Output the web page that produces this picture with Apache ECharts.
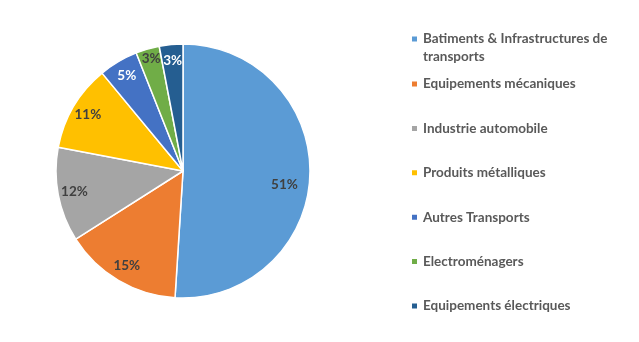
<!DOCTYPE html>
<html><head><meta charset="utf-8">
<script src="https://cdn.jsdelivr.net/npm/echarts@6/dist/echarts.min.js"></script>
<style>html,body{margin:0;padding:0;background:#fff}#c{width:639px;height:342px}</style>
</head><body><div id="c"></div>
<script>
var categories = ["Batiments & Infrastructures de transports","Equipements mécaniques","Industrie automobile","Produits métalliques","Autres Transports","Electroménagers","Equipements électriques"];
var values = [51, 15, 12, 11, 5, 3, 3];
var colors = ["#5B9BD5","#ED7D31","#A5A5A5","#FFC000","#4472C4","#70AD47","#255E91"];
var labelColors = ["#404040","#404040","#404040","#404040","#ffffff","#404040","#ffffff"];

var FONT = "Lato";
var labelOffsets = {0:[-9,10], 5:[-1,-6]};
var chart = echarts.init(document.getElementById('c'), null, {renderer:'canvas'});
var data1 = categories.map(function(c,i){return {name:c, value:values[i], itemStyle:{color:colors[i]}};});
var data2 = categories.map(function(c,i){
  var lab = {color:labelColors[i]};
  if (labelOffsets[i]) lab.offset = labelOffsets[i];
  return {name:c, value:values[i], label:lab};
});
chart.setOption({
  animation:false,
  color: colors,
  legend: [{
    orient:'vertical', left:410, top:12, padding:0,
    itemWidth:7, itemHeight:7, icon:'rect',
    data:[categories[0]],
    formatter:function(n){return " \nBatiments & Infrastructures de\ntransports";},
    textStyle:{fontFamily:FONT, fontWeight:'bold', fontSize:13.5, color:'#595959', lineHeight:18}
  },{
    orient:'vertical', left:410, top:76, padding:0,
    itemWidth:7, itemHeight:7, icon:'rect', itemGap:28.4,
    data:categories.slice(1),
    textStyle:{fontFamily:FONT, fontWeight:'bold', fontSize:13.5, color:'#595959', lineHeight:16}
  }],
  series:[{
    type:'pie', center:[183,171], radius:127, startAngle:90, clockwise:true,
    data:data1, label:{show:false}, labelLine:{show:false},
    itemStyle:{borderColor:'#fff', borderWidth:1.5}, silent:true
  },{
    type:'pie', center:[183,171], radius:[88,127], startAngle:90, clockwise:true,
    data:data2, silent:true, labelLine:{show:false},
    itemStyle:{color:'rgba(0,0,0,0)'},
    label:{show:true, position:'inside', formatter:'{c}%', fontFamily:FONT, fontWeight:'bold', fontSize:13.5, color:'#404040'}
  }]
});
</script></body></html>
